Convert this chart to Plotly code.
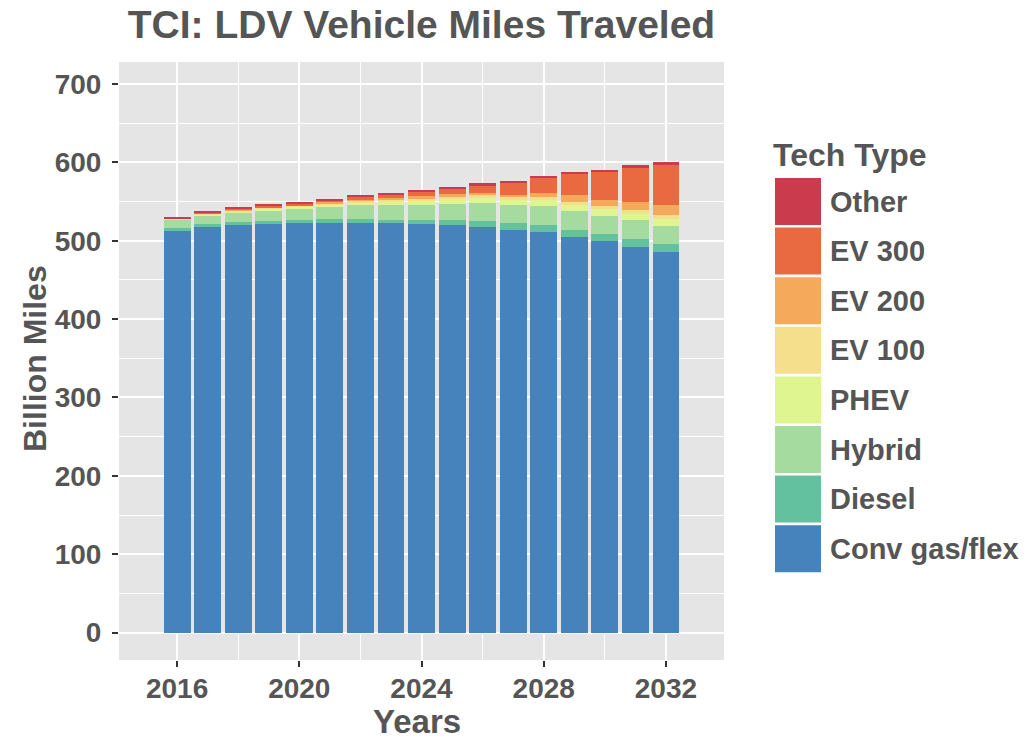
"""
TCI: LDV vehicle miles traveled by tech type (stacked bars).
"""
import plotly.graph_objects as go

years = list(range(2016, 2033))

# billion miles
conv_gas_flex = [513, 518, 520, 521, 523, 523, 523, 522, 521, 520, 518, 514, 511, 505, 499, 492, 485]
diesel = [3, 3, 3.5, 4, 4, 4.5, 5, 5, 6, 7, 7.5, 8, 9, 9, 10, 10, 11]
hybrid = [11, 11, 12, 13, 13, 15, 17, 19, 19, 20, 23, 23, 24, 24, 23, 24, 23]
phev = [0.5, 1.5, 2, 2.5, 3, 3.5, 4, 4, 5, 6, 6, 7, 8, 8, 8, 8, 9]
ev100 = [0.3, 0.8, 1, 1.3, 1.5, 1.8, 2, 2, 2.5, 3, 3.5, 3.5, 3.5, 4, 4.5, 5, 5]
ev200 = [0.2, 0.5, 0.7, 1, 1, 1, 1, 2, 3, 3, 3, 3, 5, 8, 8, 11, 13]
ev300 = [0.5, 1, 1.5, 2, 2.5, 3, 4, 5, 6, 7, 10, 15, 20, 27, 36, 43, 51]
other = [1.5, 1.5, 1.5, 2, 2, 2, 1.5, 2, 2, 2, 2, 3, 2, 3, 2, 3, 4]

# bottom of the stack first
tech_names = ["Conv gas/flex", "Diesel", "Hybrid", "PHEV", "EV 100", "EV 200", "EV 300", "Other"]
tech_values = [conv_gas_flex, diesel, hybrid, phev, ev100, ev200, ev300, other]
tech_colors = ["#4682BC", "#64C19F", "#A6DB9F", "#DEF590", "#F5DF8C", "#F4AA5A", "#E96A41", "#CA3B4D"]

y_ticks = [0, 100, 200, 300, 400, 500, 600, 700]
x_ticks = [2016, 2020, 2024, 2028, 2032]

FONT = "Liberation Sans, Arial, sans-serif"
TEXT = "#555555"

W, H = 1036, 739
ML, MT = 119, 62
PW, PH = 605, 598


def px_x(x):
    """page x (px) -> paper x"""
    return (x - ML) / PW


def px_y(y):
    """page y (px) -> paper y"""
    return (MT + PH - y) / PH


fig = go.Figure()

for name, vals, color in zip(tech_names, tech_values, tech_colors):
    fig.add_trace(go.Bar(
        x=years,
        y=vals,
        name=name,
        marker=dict(color=color, line=dict(width=0)),
        width=0.88,
        showlegend=False
    ))

fig.update_layout(
    width=W,
    height=H,
    barmode="stack",
    paper_bgcolor="white",
    plot_bgcolor="#E5E5E5",
    margin=dict(l=ML, r=W - ML - PW, t=MT, b=H - MT - PH, autoexpand=False),
    title=dict(
        text="TCI: LDV Vehicle Miles Traveled",
        font=dict(family=FONT, size=39, color=TEXT, weight="bold"),
        x=(ML + PW / 2) / W,
        xanchor="center",
        y=1 - 24 / H,
        yanchor="middle"
    ),
    font=dict(family=FONT, color=TEXT)
)

fig.update_xaxes(
    range=[2014.1, 2033.9],
    tickvals=x_ticks,
    ticks="outside",
    ticklen=6,
    tickwidth=2,
    tickcolor="#333333",
    ticklabelstandoff=-3,
    tickfont=dict(family=FONT, size=28, color=TEXT, weight="bold"),
    showgrid=True,
    gridcolor="white",
    gridwidth=2,
    minor=dict(tickvals=[2018, 2022, 2026, 2030], showgrid=True, gridcolor="white", gridwidth=1),
    zeroline=False,
    showline=False,
    automargin=False
)

fig.update_yaxes(
    range=[-35, 728],
    tickvals=y_ticks,
    ticks="outside",
    ticklen=6,
    tickwidth=2,
    tickcolor="#333333",
    ticklabelstandoff=5,
    tickfont=dict(family=FONT, size=28, color=TEXT, weight="bold"),
    showgrid=True,
    gridcolor="white",
    gridwidth=2,
    minor=dict(tickvals=[50, 150, 250, 350, 450, 550, 650], showgrid=True, gridcolor="white", gridwidth=1),
    zeroline=False,
    showline=False,
    automargin=False
)

# axis titles
fig.add_annotation(
    xref="paper", yref="paper", x=px_x(417), y=px_y(721),
    text="Years", showarrow=False, xanchor="center", yanchor="middle",
    font=dict(family=FONT, size=33, color=TEXT, weight="bold")
)
fig.add_annotation(
    xref="paper", yref="paper", x=px_x(35), y=px_y(359),
    text="Billion Miles", showarrow=False, textangle=-90, xanchor="center", yanchor="middle",
    font=dict(family=FONT, size=32, color=TEXT, weight="bold")
)

# ggplot-style legend with large keys
key_left, key_right = 775, 821
key_top0, key_pitch, key_h = 178, 49.6, 47

for i, (name, color) in enumerate(zip(reversed(tech_names), reversed(tech_colors))):
    top = key_top0 + i * key_pitch
    fig.add_shape(
        type="rect", xref="paper", yref="paper",
        x0=px_x(key_left), x1=px_x(key_right),
        y0=px_y(top), y1=px_y(top + key_h),
        fillcolor=color, line=dict(width=0)
    )
    fig.add_annotation(
        xref="paper", yref="paper",
        x=px_x(828), y=px_y(top + key_h / 2),
        text=name, showarrow=False, xanchor="left", yanchor="middle",
        font=dict(family=FONT, size=29, color=TEXT, weight="bold")
    )

fig.add_annotation(
    xref="paper", yref="paper",
    x=px_x(771), y=px_y(155),
    text="Tech Type", showarrow=False, xanchor="left", yanchor="middle",
    font=dict(family=FONT, size=32, color=TEXT, weight="bold")
)

# drop the browser's default 8px body margin so the figure fills the window
fig.write_html(
    "out.html",
    config={"displayModeBar": False},
    post_script="document.body.style.margin = '0';"
)
